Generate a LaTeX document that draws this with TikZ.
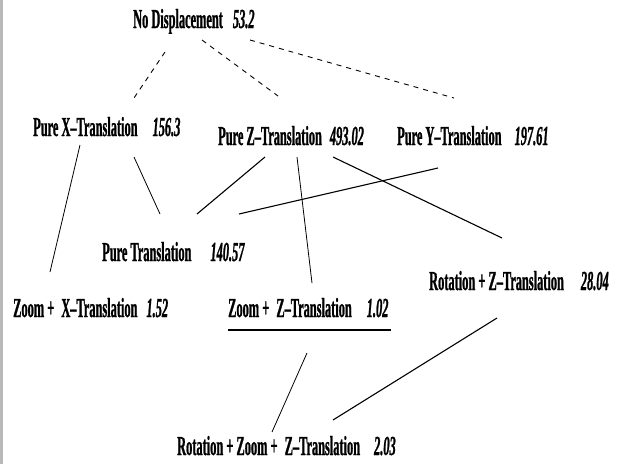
\documentclass[tikz,border=0pt]{standalone}
\usepackage{fontspec}
\setmainfont{Liberation Serif}[FakeStretch=0.45,FakeBold=0.8]
\begin{document}
\begin{tikzpicture}[x=1pt,y=-1pt,
  lbl/.style={anchor=base west,inner sep=0pt,font=\fontsize{27.5}{30}\selectfont\bfseries},
  dashline/.style={line width=0.9pt,dash pattern=on 5pt off 5pt},
  thinline/.style={line width=0.8pt},
  midline/.style={line width=1.1pt}]
\useasboundingbox (0,0) rectangle (621,464);
\fill[gray!55] (0,0) rectangle (3,464);
% labels
\node[lbl] (nd) at (133,28) {No Displacement\hspace{10pt}\textit{53.2}};
\node[lbl] (px) at (33,136) {Pure X–Translation\hspace{15pt}\textit{156.3}};
\node[lbl] (pz) at (218,145) {Pure Z–Translation\hspace{8pt}\textit{493.02}};
\node[lbl] (py) at (397,145) {Pure Y–Translation\hspace{13pt}\textit{197.61}};
\node[lbl] (pt) at (102,261) {Pure Translation\hspace{19pt}\textit{140.57}};
\node[lbl] (zx) at (13,317) {Zoom +\hspace{4pt} X–Translation\hspace{9pt}\textit{1.52}};
\node[lbl] (zz) at (228,317) {Zoom +\hspace{4pt} Z–Translation\hspace{15pt}\textit{1.02}};
\node[lbl] (rz) at (429,290) {Rotation + Z–Translation\hspace{17pt}\textit{28.04}};
\node[lbl] (rzz) at (177,455) {Rotation + Zoom +\hspace{4pt} Z–Translation\hspace{14pt}\textit{2.03}};
% underline
\coordinate (ul1) at (228,330);
\coordinate (ul2) at (391,330);
\draw[line width=2.6pt] (ul1) -- (ul2);
% connector end points
\coordinate (a1) at (165,52);  \coordinate (b1) at (134,98);
\coordinate (a2) at (202,40);  \coordinate (b2) at (278,96);
\coordinate (a3) at (250,40);  \coordinate (b3) at (454,98);
\coordinate (a4) at (80,145);  \coordinate (b4) at (50,272);
\coordinate (a5) at (134,157); \coordinate (b5) at (160,214);
\coordinate (a6) at (265,157); \coordinate (b6) at (197,214);
\coordinate (a7) at (438,168); \coordinate (b7) at (239,214);
\coordinate (a8) at (297,157); \coordinate (b8) at (312,283);
\coordinate (a9) at (333,157); \coordinate (b9) at (502,238);
\coordinate (a10) at (307,353); \coordinate (b10) at (272,432);
\coordinate (a11) at (497,318); \coordinate (b11) at (333,420);
% dashed
\draw[dashline] (a1) -- (b1);
\draw[dashline] (a2) -- (b2);
\draw[dashline] (a3) -- (b3);
% solid
\draw[thinline] (a4) -- (b4);
\draw[thinline] (a5) -- (b5);
\draw[midline] (a6) -- (b6);
\draw[midline] (a7) -- (b7);
\draw[thinline] (a8) -- (b8);
\draw[midline] (a9) -- (b9);
\draw[thinline] (a10) -- (b10);
\draw[midline] (a11) -- (b11);
\end{tikzpicture}
\end{document}
